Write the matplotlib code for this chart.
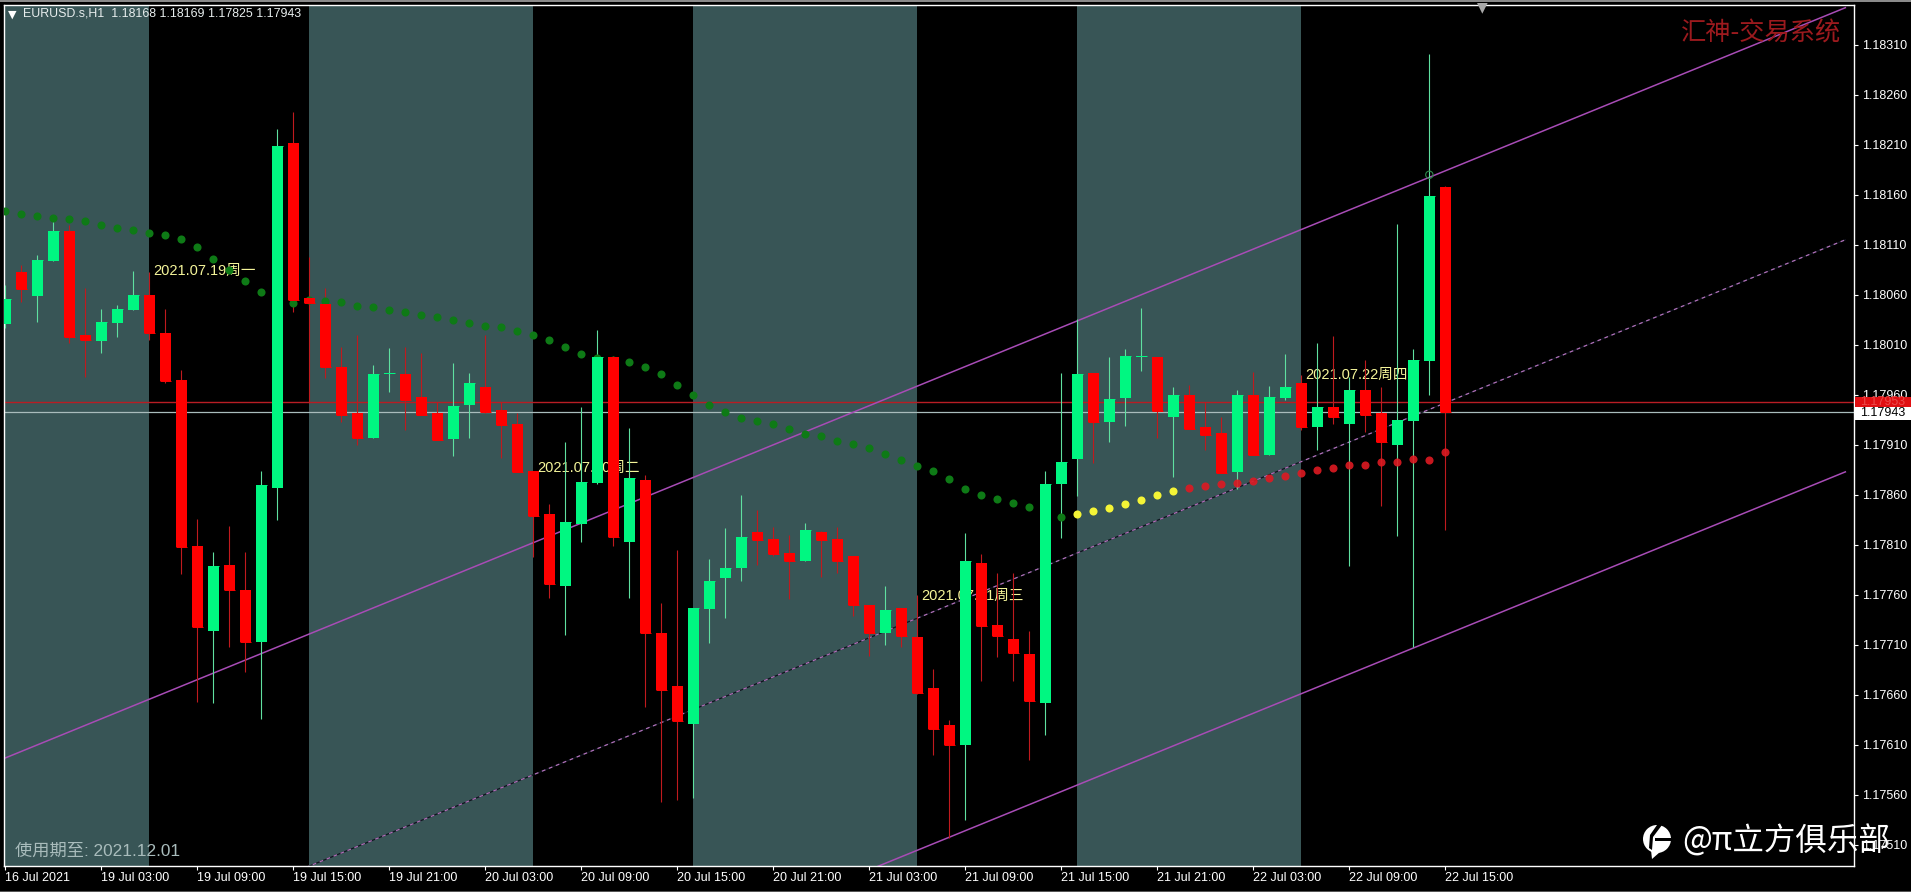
import matplotlib
matplotlib.use('Agg')
import matplotlib.pyplot as plt
from matplotlib.patches import Rectangle, Circle, Polygon
import numpy as np

# hourly bars, prices in 1e-5 units
opens = [118031,118083,118059,118094,118124,118020,118014,118032,118045,118060,
         118022,117975,117809,117724,117790,117765,117713,117867,118212,118057,
         118051,117988,117942,117917,117981,117981,117958,117942,117916,117950,
         117968,117945,117931,117884,117841,117769,117831,117872,117998,117813,
         117875,117722,117669,117631,117746,117777,117787,117823,117816,117802,
         117794,117823,117816,117799,117750,117722,117747,117718,117667,117630,
         117610,117792,117730,117716,117701,117652,117871,117896,117982,117933,
         117957,117998,117998,117938,117960,117928,117922,117883,117960,117900,
         117957,117972,117928,117948,117931,117965,117942,117910,117934,117994,
         118168]
highs = [118070,118090,118100,118138,118130,118067,118046,118050,118084,118083,
         118046,117985,117836,117803,117829,117803,117884,118226,118243,118098,
         118067,118008,118020,117990,118007,118008,118002,117953,117992,117982,
         118020,117953,117942,117884,117851,117913,117948,118025,117999,117927,
         117880,117752,117805,117747,117796,117827,117860,117845,117828,117820,
         117832,117824,117828,117799,117750,117769,117747,117760,117686,117635,
         117822,117801,117782,117782,117724,117884,117982,118036,117982,117998,
         118006,118047,117998,117968,117970,117953,117938,117965,117983,117969,
         118001,117980,118012,118019,117978,117995,117968,118131,118006,118301,
         118169]
lows = [118027,118053,118033,118094,118012,117978,118002,118018,118045,118015,
        117972,117781,117653,117652,117708,117683,117636,117835,118043,117952,
        117977,117933,117910,117917,117963,117925,117940,117915,117899,117917,
        117942,117897,117883,117798,117757,117720,117813,117871,117809,117757,
        117648,117553,117555,117557,117712,117737,117774,117790,117799,117756,
        117794,117778,117782,117739,117699,117710,117708,117661,117600,117517,
        117535,117674,117698,117674,117595,117620,117817,117859,117892,117913,
        117929,117984,117917,117878,117926,117905,117882,117866,117900,117900,
        117955,117925,117905,117931,117789,117923,117849,117819,117708,117960,
        117825]
closes = [118056,118066,118095,118124,118018,118015,118033,118046,118060,118022,
          117974,117808,117728,117789,117765,117713,117870,118209,118055,118052,
          117988,117940,117917,117981,117982,117955,117940,117915,117949,117972,
          117943,117930,117883,117839,117771,117833,117873,117998,117818,117877,
          117722,117665,117634,117747,117774,117787,117818,117815,117801,117794,
          117825,117815,117794,117750,117722,117745,117719,117662,117626,117610,
          117794,117729,117719,117702,117654,117871,117893,117981,117933,117956,
          117999,117999,117944,117960,117926,117920,117882,117960,117900,117958,
          117968,117928,117948,117938,117965,117940,117913,117935,117995,118159,
          117943]

# indicator dots: (first bar, values)
dark_start = 0
dark_dots = [118144,118141,118139,118137,118136,118134,118130,118127,118125,118122,
             118120,118116,118108,118096,118085,118074,118063,118054,118052,118055,
             118054,118053,118049,118048,118045,118043,118040,118038,118035,118032,
             118029,118028,118024,118020,118015,118008,118001,117997,117995,117993,
             117988,117981,117970,117960,117950,117943,117937,117934,117931,117926,
             117921,117919,117914,117911,117907,117901,117895,117889,117884,117876,
             117866,117860,117856,117852,117848,117845,117838]
yellow_start = 67
yellow_dots = [117841,117844,117847,117851,117855,117860,117864]
red_start = 74
red_dots = [117867,117869,117871,117872,117874,117877,117879,117882,117885,117887,
            117890,117890,117893,117893,117896,117895,117903]

band_starts = [-0.08, 19, 43, 67]
band_ends = [9, 33, 57, 81]

channel_x = [0, 115]
channel_top = [1.17597, 1.18347]
channel_mid = [1.17365, 1.18115]
channel_bot = [1.17133, 1.17883]

bid_line = 1.17953
last_line = 1.17943

y_ticks = [1.18310,1.18260,1.18210,1.18160,1.18110,1.18060,1.18010,1.17960,1.17910,
           1.17860,1.17810,1.17760,1.17710,1.17660,1.17610,1.17560,1.17510]
x_ticks = [0,6,12,18,24,30,36,42,48,54,60,66,72,78,84,90]
x_labels = ['16 Jul 2021','19 Jul 03:00','19 Jul 09:00','19 Jul 15:00','19 Jul 21:00',
            '20 Jul 03:00','20 Jul 09:00','20 Jul 15:00','20 Jul 21:00','21 Jul 03:00',
            '21 Jul 09:00','21 Jul 15:00','21 Jul 21:00','22 Jul 03:00','22 Jul 09:00',
            '22 Jul 15:00']

day_x = [9.23, 33.23, 57.23, 81.23]
day_y = [1.18084, 1.17887, 1.17759, 1.17980]
day_text = ['2021.07.19周一', '2021.07.20周二', '2021.07.21周三', '2021.07.22周四']

W, H = 1911, 892
LATIN = 'Liberation Sans'
CJK = 'Noto Sans CJK SC'
plt.rcParams['font.family'] = [LATIN, CJK, 'DejaVu Sans']

TEAL = '#385556'
GREEN = '#00f781'
RED = '#ff0000'
GREEN_WICK = '#5fe0a0'
RED_WICK = '#c01a1e'
PURPLE = '#a84cb6'

fig = plt.figure(figsize=(W/100, H/100), dpi=100, facecolor='black')
ax = fig.add_axes([4/W, 1-866/H, 1850/W, (866-4.7)/H], facecolor='black')

ax.set_xlim(-0.08, 115.54)
ax.set_ylim(1.17489, 1.18350)

for a, b in zip(band_starts, band_ends):
    ax.axvspan(a, b, color=TEAL, lw=0, zorder=1)

ax.axhline(bid_line, color='#b81d24', lw=1.0, zorder=2)
ax.axhline(last_line, color='#a9bcbc', lw=0.9, zorder=2)

ax.plot(channel_x, channel_top, color=PURPLE, lw=1.1, zorder=2.5)
ax.plot(channel_x, channel_bot, color=PURPLE, lw=1.1, zorder=2.5)
ax.plot(channel_x, channel_mid, color='#10131f', lw=0.9, zorder=2.5)
ax.plot(channel_x, channel_mid, color='#b070b8', lw=0.9, ls=(0, (3, 3)), zorder=2.6)

for x, y, s in zip(day_x, day_y, day_text):
    ax.text(x, y, s, color='#f5f59a', fontsize=10.5, va='center', ha='left', zorder=3)

opens = np.array(opens)/1e5
highs = np.array(highs)/1e5
lows = np.array(lows)/1e5
closes = np.array(closes)/1e5
bars = np.arange(len(opens))
up = closes >= opens

ax.vlines(bars[up], lows[up], highs[up], color=GREEN_WICK, lw=0.8, zorder=4)
ax.vlines(bars[~up], lows[~up], highs[~up], color=RED_WICK, lw=0.8, zorder=4)

# dots sit over the wicks but behind the bodies
ax.scatter(np.arange(len(dark_dots))+dark_start, np.array(dark_dots)/1e5, s=34, color='#0e7a16', lw=0, zorder=4.5)
ax.scatter(np.arange(len(yellow_dots))+yellow_start, np.array(yellow_dots)/1e5, s=34, color='#f4f436', lw=0, zorder=4.5)
ax.scatter(np.arange(len(red_dots))+red_start, np.array(red_dots)/1e5, s=34, color='#de1a22', lw=0, alpha=0.9, zorder=4.5)

body_low = np.minimum(opens, closes)
body_h = np.abs(closes-opens)
ax.bar(bars[up], body_h[up], 0.69, bottom=body_low[up], color=GREEN, lw=0, zorder=5)
ax.bar(bars[~up], body_h[~up], 0.69, bottom=body_low[~up], color=RED, lw=0, zorder=5)
# dojis still show a flat 1px body
ax.hlines(closes[up], bars[up]-0.34, bars[up]+0.34, color=GREEN, lw=0.7, zorder=5)
ax.hlines(closes[~up], bars[~up]-0.34, bars[~up]+0.34, color=RED, lw=0.7, zorder=5)

ax.scatter([89], [1.18180], s=28, facecolors='none', edgecolors='#2f8a4d', lw=0.8, zorder=6)

for s in ax.spines.values():
    s.set_color('white')
    s.set_linewidth(1.0)

ax.yaxis.tick_right()
ax.set_yticks(y_ticks)
ax.set_yticklabels(['%.5f' % v for v in y_ticks])
ax.set_xticks(x_ticks)
ax.set_xticklabels(x_labels, ha='left')
ax.tick_params(axis='both', colors='white', length=3, width=0.8, labelsize=9, zorder=1)
ax.tick_params(axis='y', pad=2.5)
ax.tick_params(axis='x', pad=1.5)

# price boxes on the scale
side = ax.get_yaxis_transform()
ax.add_patch(Rectangle((1.0008, 1.17948), 0.032, 0.00010, transform=side, color='#e00f12', lw=0, clip_on=False, zorder=7))
ax.add_patch(Rectangle((1.0008, 1.17935), 0.032, 0.00013, transform=side, color='white', lw=0, clip_on=False, zorder=7))
ax.text(1.0035, bid_line, '%.5f' % bid_line, transform=side, color='#ea4a4a', fontsize=9, va='center', clip_on=False, zorder=8)
ax.text(1.0035, last_line-0.00001, '%.5f' % last_line, transform=side, color='black', fontsize=9, va='center', clip_on=False, zorder=8)

# header and captions
fig.text(23/W, 1-14/H, 'EURUSD.s,H1  1.18168 1.18169 1.17825 1.17943', color='#e8eeee', fontsize=8.9, va='center')
fig.text(12/W, 1-14.5/H, '▼', color='white', fontsize=8, va='center', ha='center', family='DejaVu Sans')
fig.text(1482/W, 1-7/H, '▼', color='#a8a8a8', fontsize=10, va='center', ha='center', family='DejaVu Sans')
fig.text(1681/W, 1-34/H, '汇神-交易系统', color='#9c1a1e', fontsize=18.2, va='center', family=[CJK])
fig.text(15/W, 1-851/H, '使用期至: 2021.12.01', color='#a9bcbc', fontsize=12.4, va='center', family=[LATIN, CJK])
fig.text(1682/W, 1-841/H, '@π立方俱乐部', color='white', fontsize=22.7, va='center', family=[CJK, 'DejaVu Sans'], zorder=9)

# watermark logo
logo = fig.add_axes([1642/W, 1-860/H, 30/W, 36/H])
logo.set_xlim(0, 30)
logo.set_ylim(36, 0)
logo.axis('off')
logo.add_patch(Circle((15, 15), 14, color='white', lw=0))
logo.add_patch(Polygon([[9, 26], [18, 28], [10, 35]], color='white', lw=0))
logo.add_patch(Polygon([[15, 1], [20, 1], [11, 13], [10, 26], [7, 24], [8, 11]], color='black', lw=0))
logo.add_patch(Rectangle((13, 14), 17, 3, color='black', lw=0))

# window edge
fig.add_artist(Rectangle((0, 1-2/H), 1, 2/H, transform=fig.transFigure, color='#8a8a8a', lw=0))
fig.add_artist(Rectangle((0, 0), 1, 1.5/H, transform=fig.transFigure, color='#555555', lw=0))

fig.savefig('out.png', dpi=100, facecolor='black')
